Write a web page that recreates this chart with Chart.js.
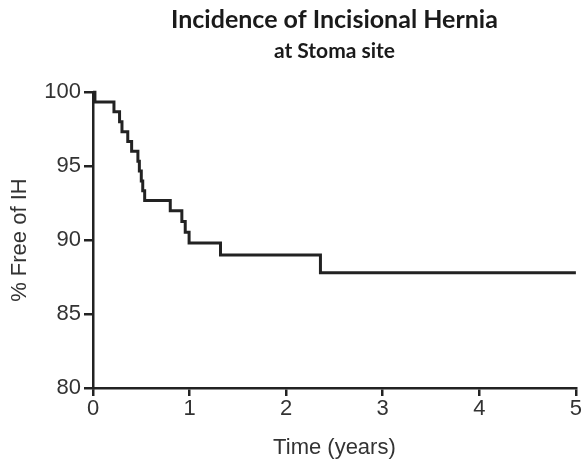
<!DOCTYPE html>
<html>
<head>
<meta charset="utf-8">
<script src="https://cdn.jsdelivr.net/npm/chart.js@4/dist/chart.umd.min.js"></script>
<style>
  html, body { margin: 0; padding: 0; background: #fff; }
  #wrap { width: 582px; height: 468px; }
</style>
</head>
<body>
<div id="wrap"><canvas id="kmChart" width="582" height="468"></canvas></div>
<script>
// Kaplan-Meier steps (time in years, % free of IH after each step)
const times = [0, 0.02, 0.217, 0.275, 0.30, 0.36, 0.40, 0.465, 0.48, 0.50, 0.515, 0.535, 0.80, 0.92, 0.955, 0.995, 1.32, 2.355, 5];
const freeOfIH = [100, 99.33, 98.67, 98.0, 97.33, 96.67, 96.0, 95.33, 94.67, 94.0, 93.33, 92.67, 91.98, 91.25, 90.53, 89.8, 89.0, 87.8, 87.8];
const xTicks = [0, 1, 2, 3, 4, 5];
const yTicks = [80, 85, 90, 95, 100];

const axisColor = '#222';
const textColor = '#333';

const points = times.map((t, i) => ({ x: t, y: freeOfIH[i] }));

const ctx = document.getElementById('kmChart').getContext('2d');
const kmChart = new Chart(ctx, {
    type: 'line',
    data: {
        datasets: [{
            data: points,
            stepped: 'before',
            borderColor: axisColor,
            borderWidth: 3,
            pointRadius: 0,
            fill: false,
            clip: 6
        }]
    },
    options: {
        responsive: false,
        animation: false,
        layout: { padding: { left: 0, right: 5, top: 0, bottom: 0 } },
        plugins: {
            legend: { display: false },
            tooltip: { enabled: false },
            title: {
                display: true,
                text: 'Incidence of Incisional Hernia',
                fullSize: false,
                color: '#1a1a1a',
                font: { family: 'Lato', size: 25, weight: 'bold' },
                padding: { top: 5, bottom: 4 }
            },
            subtitle: {
                display: true,
                text: 'at Stoma site',
                fullSize: false,
                color: '#1a1a1a',
                font: { family: 'Lato', size: 21, weight: 'bold' },
                padding: { top: 0, bottom: 28 }
            }
        },
        scales: {
            x: {
                type: 'linear',
                min: 0,
                max: 5,
                afterBuildTicks: s => { s.ticks = xTicks.map(v => ({ value: v })); },
                afterFit: s => { s.height = 80; },
                border: { display: true, color: axisColor, width: 2.5 },
                grid: { drawOnChartArea: false, drawTicks: true, tickLength: 8, color: axisColor, lineWidth: 2.5 },
                ticks: { color: textColor, font: { family: 'Liberation Sans', size: 22 }, padding: 0, maxRotation: 0 },
                title: {
                    display: true,
                    text: 'Time (years)',
                    color: textColor,
                    font: { family: 'Liberation Sans', size: 22 },
                    padding: { top: 11, bottom: 7 }
                }
            },
            y: {
                min: 80,
                max: 100,
                afterBuildTicks: s => { s.ticks = yTicks.map(v => ({ value: v })); },
                afterFit: s => { s.width = 93; },
                border: { display: true, color: axisColor, width: 2.5 },
                grid: { drawOnChartArea: false, drawTicks: true, tickLength: 9, color: axisColor, lineWidth: 2.5 },
                ticks: { color: textColor, font: { family: 'Liberation Sans', size: 22 }, padding: 3 },
                title: {
                    display: true,
                    text: '% Free of IH',
                    color: textColor,
                    font: { family: 'Liberation Sans', size: 22 },
                    padding: { top: 7, bottom: 0 }
                }
            }
        }
    }
});
</script>
</body>
</html>
